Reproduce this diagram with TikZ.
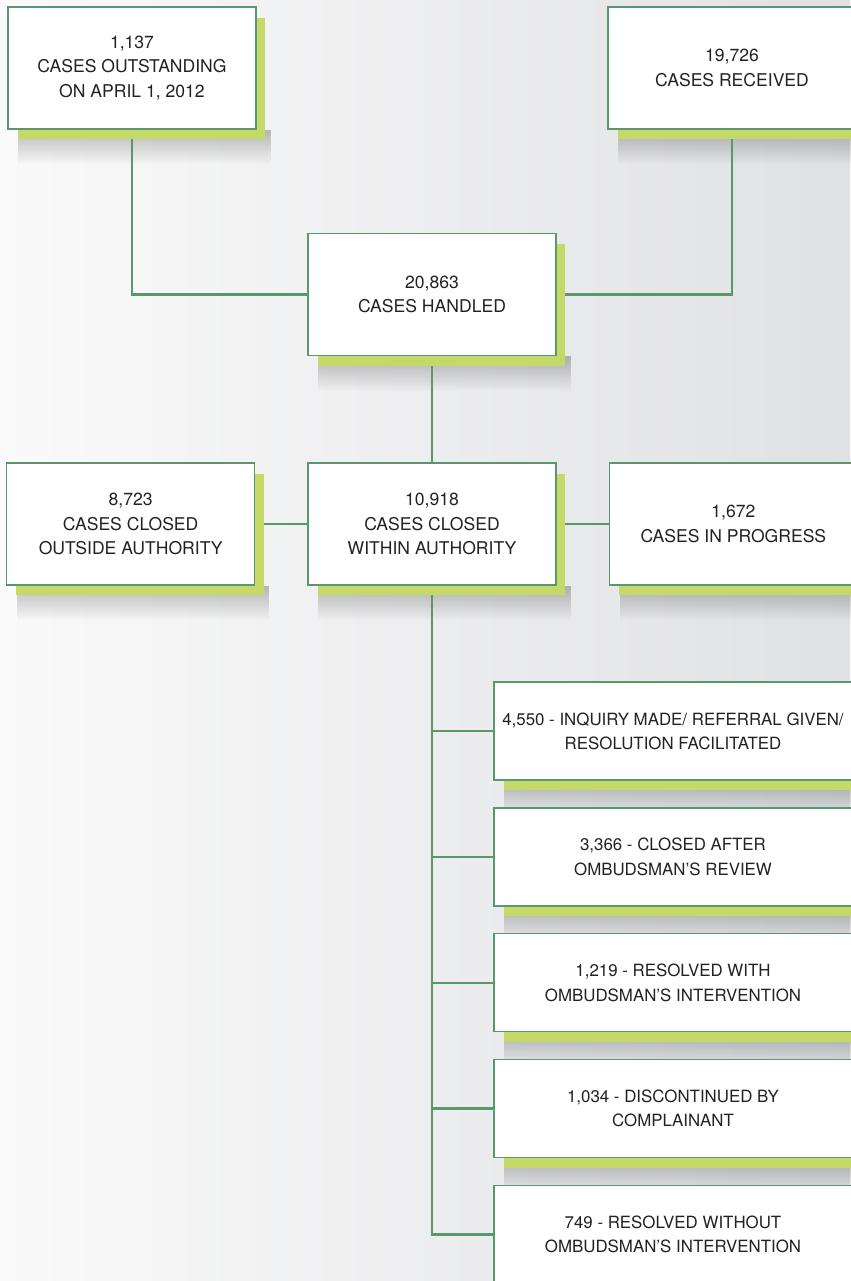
\documentclass[tikz,border=0pt]{standalone}
\usepackage{fontspec}
\setmainfont{TeX Gyre Heros}
\usetikzlibrary{positioning, shadows, fadings}

\definecolor{linegreen}{RGB}{88,152,108}
\definecolor{limeshade}{RGB}{197,217,104}
\definecolor{bgleft}{RGB}{250,250,250}
\definecolor{bgright}{RGB}{224,225,228}
\definecolor{textgray}{RGB}{34,34,34}

\pgfdeclarelayer{back}
\pgfdeclarelayer{lines}
\pgfsetlayers{back,lines,main}

\tikzset{
  casebox/.style={draw=linegreen, line width=0.8pt, fill=white, inner sep=0pt,
    minimum width=4.96cm, minimum height=2.44cm, align=center, text=textgray,
    font=\fontsize{10}{13.8}\selectfont,
    general shadow={fill=limeshade, shadow xshift=0.19cm, shadow yshift=-0.21cm}},
  listbox/.style={casebox, minimum width=7.16cm, minimum height=1.96cm,
    font=\fontsize{9.6}{13.8}\selectfont},
  softshadow/.style={fill=black, fill opacity=0.25, path fading=south},
  link/.style={draw=linegreen, line width=1.4pt}
}

\begin{document}
\begin{tikzpicture}[x=0.02cm, y=-0.02cm]
                    \useasboundingbox (0,0) rectangle (850,1281);
                    \begin{pgfonlayer}{back}
                    \shade[left color=bgleft, right color=bgright] (0,0) rectangle (850,1281);
                    \end{pgfonlayer}
                    % top row
                    \node[casebox] (outstanding) at (132,68) {1,137\\CASES OUTSTANDING\\ON APRIL 1, 2012};
                    \node[casebox] (received) at (732,68) {19,726\\CASES RECEIVED};
                    % middle rows
                    \node[casebox] (within) at (432,524) {10,918\\CASES CLOSED\\WITHIN AUTHORITY};
                    \node[casebox, above=2.12cm of within] (handled) {20,863\\CASES HANDLED};
                    \node[casebox, left=1.04cm of within] (outside) {8,723\\CASES CLOSED\\OUTSIDE AUTHORITY};
                    \node[casebox, right=1.04cm of within] (progress) {1,672\\CASES IN PROGRESS};
                    % closed within authority
                    \node[listbox] (inquiry) at (673,731) {4,550 - INQUIRY MADE/ REFERRAL GIVEN/\\RESOLUTION FACILITATED};
                    \node[listbox, below=0.53cm of inquiry] (review) {3,366 - CLOSED AFTER\\OMBUDSMAN'S REVIEW};
                    \node[listbox, below=0.53cm of review] (intervention) {1,219 - RESOLVED WITH\\OMBUDSMAN'S INTERVENTION};
                    \node[listbox, below=0.53cm of intervention] (discontinued) {1,034 - DISCONTINUED BY\\COMPLAINANT};
                    \node[listbox, below=0.53cm of discontinued] (without) {749 - RESOLVED WITHOUT\\OMBUDSMAN'S INTERVENTION};
                    \begin{pgfonlayer}{lines}
                    \foreach \cb in {outstanding, received, handled, outside, within, progress,
                                     inquiry, review, intervention, discontinued, without}
                        \fill[softshadow] ([xshift=0.22cm]\cb.south west) rectangle ([xshift=0.28cm, yshift=-0.7cm]\cb.south east);
                    \draw[link] (outstanding.south) |- (handled.west);
                    \draw[link] (received.south) |- (handled.east);
                    \draw[link] (handled.south) -- (within.north);
                    \draw[link] (outside.east) -- (within.west);
                    \draw[link] (within.east) -- (progress.west);
                    \foreach \item in {inquiry, review, intervention, discontinued, without}
                        \draw[link] (within.south) |- (\item.west);
                    \end{pgfonlayer}
                \end{tikzpicture}
\end{document}
